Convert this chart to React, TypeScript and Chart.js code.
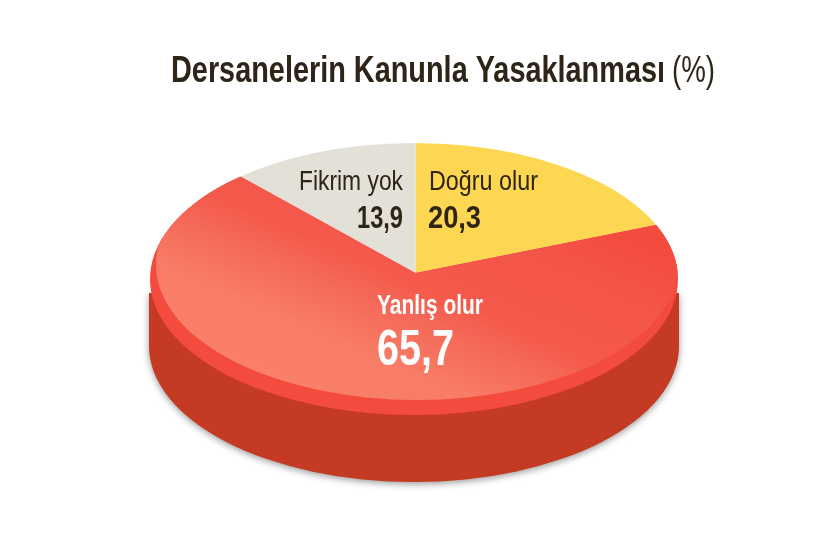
import Chart from "chart.js/auto";
import { useEffect, useRef } from "react";

const categories = ["Doğru olur", "Yanlış olur", "Fikrim yok"];
const values = [20.3, 65.7, 13.9];
const sliceColors = ["#fdd752", "#f44b3f", "#e3e0d8"];

const titleBold = "Dersanelerin Kanunla Yasaklanması";
const titleUnit = "(%)";

const NARROW = '"Liberation Sans Narrow", "Liberation Sans", sans-serif';

// outline of the top face on the page
const CX = 414;
const CY = 279;
const RX = 264;
const RY = 136;
const DEPTH = 67;

// the slices meet above the outline's centre and are a bit steeper than it
const APEX_X = 415.5;
const APEX_Y = 273;
const ARC_SCALE = 1.06;
const ARC_SQUASH = 0.66;

const formatValue = (v: number) => v.toFixed(1).replace(".", ",");

function drawText(
  ctx: CanvasRenderingContext2D,
  text: string,
  x: number,
  y: number,
  width: number,
  font: string,
  color: string,
  align: CanvasTextAlign = "left"
) {
  ctx.font = font;
  ctx.fillStyle = color;
  ctx.textAlign = align;
  ctx.textBaseline = "alphabetic";
  ctx.fillText(text, x, y, width);
}

const pie3dPlugin = {
  id: "pie3d",
  beforeDatasetsDraw(chart: any) {
    const ctx = chart.ctx;
    const arc = chart.getDatasetMeta(0).data[0];

    // side wall under the top face
    ctx.save();
    ctx.shadowColor = "rgba(0,0,0,0.4)";
    ctx.shadowBlur = 7;
    ctx.shadowOffsetY = 2;
    ctx.fillStyle = "#c43a22";
    ctx.beginPath();
    ctx.moveTo(CX - RX - 1, CY + 14);
    ctx.lineTo(CX - RX - 1, CY + DEPTH);
    ctx.ellipse(CX, CY + DEPTH, RX + 1, RY, 0, Math.PI, 0, true);
    ctx.lineTo(CX + RX + 1, CY + 14);
    ctx.closePath();
    ctx.fill();
    ctx.restore();

    // top face: clip to the outline, flatten the circle into it
    ctx.save();
    ctx.beginPath();
    ctx.ellipse(CX, CY, RX, RY, 0, 0, Math.PI * 2);
    ctx.clip();
    ctx.translate(APEX_X, APEX_Y);
    ctx.scale(ARC_SCALE, ARC_SCALE * ARC_SQUASH);
    ctx.translate(-arc.x, -arc.y);
  },
  afterDatasetsDraw(chart: any) {
    const ctx = chart.ctx;
    const arc = chart.getDatasetMeta(0).data[1];
    const { x, y, startAngle, endAngle, outerRadius } = arc.getProps([
      "x",
      "y",
      "startAngle",
      "endAngle",
      "outerRadius",
    ]);

    // lighter inner face of the big slice, the flat red stays as a rim
    ctx.save();
    ctx.beginPath();
    ctx.moveTo(x, y);
    ctx.arc(x, y, outerRadius, startAngle, endAngle);
    ctx.closePath();
    ctx.clip();
    ctx.translate(x, y);
    ctx.scale(1 / ARC_SCALE, 1 / (ARC_SCALE * ARC_SQUASH));
    ctx.translate(-APEX_X, -APEX_Y);
    const grad = ctx.createLinearGradient(300, 400, 412, 142);
    grad.addColorStop(0, "#f9806a");
    grad.addColorStop(0.25, "#f87c66");
    grad.addColorStop(0.4, "#f56c5a");
    grad.addColorStop(0.55, "#f4594b");
    grad.addColorStop(0.8, "#f35548");
    grad.addColorStop(1, "#f44b3f");
    ctx.fillStyle = grad;
    ctx.beginPath();
    ctx.ellipse(417, 265, 261, 135, 0, 0, Math.PI * 2);
    ctx.fill();
    ctx.restore();

    ctx.restore(); // end of the top face transform and clip

    const dark = "#2e2417";
    drawText(ctx, titleBold, 171, 82, 494, `bold 36px ${NARROW}`, dark);
    drawText(ctx, titleUnit, 672, 82, 43, `36px ${NARROW}`, dark);

    drawText(ctx, categories[2], 403, 190, 104, `28px ${NARROW}`, dark, "right");
    drawText(ctx, formatValue(values[2]), 403, 228, 46, `bold 31px ${NARROW}`, dark, "right");
    drawText(ctx, categories[0], 429, 190, 109, `28px ${NARROW}`, dark);
    drawText(ctx, formatValue(values[0]), 428, 228, 53, `bold 31px ${NARROW}`, dark);
    drawText(ctx, categories[1], 377, 314, 106, `bold 28px ${NARROW}`, "#ffffff");
    drawText(ctx, formatValue(values[1]), 377, 365, 77, `bold 50px ${NARROW}`, "#ffffff");
  },
};

export default function App() {
  const canvasRef = useRef<HTMLCanvasElement | null>(null);

  useEffect(() => {
    if (!canvasRef.current) {
      return;
    }

    const pieChart = new Chart(canvasRef.current, {
      type: "pie",
      data: {
        labels: categories,
        datasets: [
          {
            data: values,
            backgroundColor: sliceColors,
            borderWidth: 0,
            clip: false,
          } as any,
        ],
      },
      options: {
        responsive: false,
        animation: false,
        layout: { padding: 9 },
        plugins: {
          legend: { display: false },
          tooltip: { enabled: false },
        },
      },
      plugins: [pie3dPlugin],
    });

    return () => {
      pieChart.destroy();
    };
  }, []);

  return (
    <div style={{ position: "fixed", left: 0, top: 0, width: 821, height: 546, background: "#fff" }}>
      <canvas ref={canvasRef} width={821} height={546}></canvas>
    </div>
  );
}
